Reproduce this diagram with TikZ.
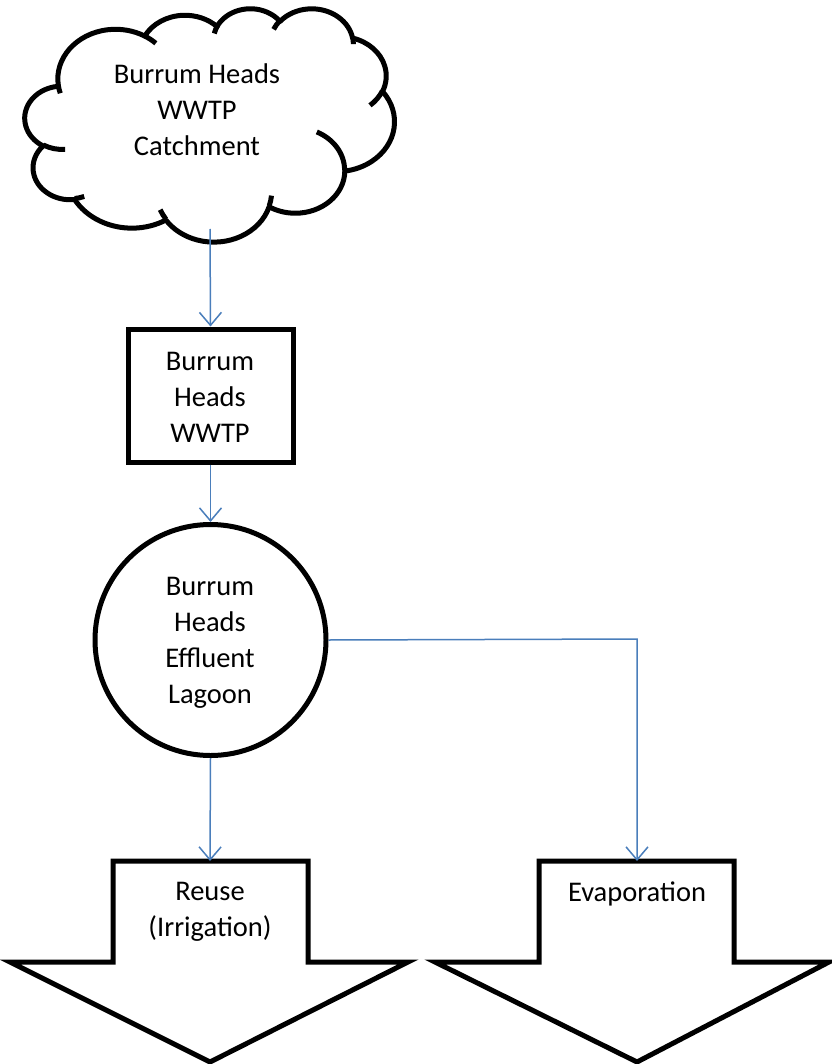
\documentclass[tikz,border=0pt]{standalone}
\usepackage{fontspec}
\setmainfont{Carlito}
\usetikzlibrary{arrows.meta}
\definecolor{conn}{HTML}{4A7EBB}
\tikzset{
  every node/.style={font=\fontsize{28.5}{36}\selectfont, align=center, inner sep=0pt},
  shapeline/.style={draw=black, line width=5pt, fill=white},
  stubline/.style={draw=black, line width=5pt},
  connline/.style={draw=conn, line width=1.5pt, -{Straight Barb[length=13pt,width=22pt,line width=1.5pt]}},
  ooarc/.style n args={4}{/utils/exec={%
      \pgfmathsetmacro\ooS{atan2((#1)*sin(#3),(#2)*cos(#3))}%
      \pgfmathsetmacro\ooE{atan2((#1)*sin(#3+#4),(#2)*cos(#3+#4))}%
      \pgfmathsetmacro\ooD{mod(\ooE-\ooS+720,360)}},
    insert path={arc[x radius=#1, y radius=#2, start angle=\ooS, delta angle=\ooD]}},
}
\begin{document}
\begin{tikzpicture}[x=1pt,y=-1pt]
\useasboundingbox[fill=white] (0,0) rectangle (831,1064);
% cloud (Office cloud geometry)
\begin{scope}[shift={(25pt,-8pt)}, x=1pt, y=1pt, xscale=0.855, yscale=-0.54]
\draw[shapeline, line join=round] (39.00,143.70)
 [ooarc={67.53}{91.90}{-190.4875}{123.7805}]
 [ooarc={53.33}{72.67}{-144.1024}{89.9452}]
 [ooarc={43.65}{59.45}{-145.8079}{99.7230}]
 [ooarc={48.57}{65.95}{-130.9861}{117.2417}]
 [ooarc={53.33}{72.73}{-78.7089}{109.0269}]
 [ooarc={67.75}{92.20}{-46.2673}{130.2690}]
 [ooarc={57.85}{78.67}{0.6250}{114.0333}]
 [ooarc={67.52}{92.15}{22.4516}{115.1726}]
 [ooarc={77.20}{105.43}{66.2426}{75.7110}]
 [ooarc={43.60}{59.18}{-274.9420}{146.7356}]
 [ooarc={43.45}{59.45}{-246.8285}{152.5189}]
 -- cycle;
\draw[stubline] (46.93,261.77) [ooarc={43.45}{59.45}{86.742}{26.4295}];
\draw[stubline] (69.28,348.99) [ooarc={43.60}{59.18}{73.6105}{11.4475}];
\draw[stubline] (164.78,390.90) [ooarc={67.52}{92.15}{137.6242}{14.0811}];
\draw[stubline] (288.27,347.51) [ooarc={67.52}{92.15}{6.4533}{15.9984}];
\draw[stubline] (341.29,229.54) [ooarc={57.85}{78.67}{-70.2924}{70.9174}];
\draw[stubline] (417.98,153.54) [ooarc={53.33}{72.73}{30.318}{27.7515}];
\draw[stubline] (383.24,54.26) [ooarc={48.57}{65.95}{-13.7443}{14.8589}];
\draw[stubline] (290.78,39.52) [ooarc={48.57}{65.95}{-149.1815}{18.1954}];
\draw[stubline] (221.41,47.20) [ooarc={43.65}{59.45}{-163.4943}{17.6864}];
\draw[stubline] (140.00,51.92) [ooarc={67.53}{91.90}{-66.7070}{12.3194}];
\draw[stubline] (41.27,157.89) [ooarc={67.53}{91.90}{157.6544}{11.8582}];
\end{scope}
\coordinate (cloudbot) at (210,229);
\node (catchtxt) at (197,110) {Burrum Heads\\WWTP\\Catchment};
% WWTP box
\node[shapeline, rectangle, minimum width=165pt, minimum height=133pt] (wwtp) at (210.5,395.5) {};
\node (wwtptxt) at (210,397) {Burrum\\Heads\\WWTP};
% lagoon
\node[shapeline, circle, minimum size=231pt] (lagoon) at (210.5,640) {};
\node (lagoontxt) at (210,643) {Burrum\\Heads\\Effluent\\Lagoon};
% reuse arrow
\draw[shapeline, line join=miter] (113,861) -- (308,861) -- (308,962) -- (408,962) -- (210,1062) -- (10,962) -- (113,962) -- cycle;
\coordinate (reusetop) at (210,861);
\node (reusetxt) at (210,912) {Reuse\\(Irrigation)};
% evaporation arrow
\draw[shapeline, line join=miter] (539,861) -- (734,861) -- (734,962) -- (829,962) -- (637,1062) -- (435,962) -- (539,962) -- cycle;
\coordinate (evaptop) at (637,861);
\node (evaptxt) at (637,894) {Evaporation};
% connectors
\coordinate (bend) at (637,639);
\draw[connline] (cloudbot) -- (wwtp.north);
\draw[connline] (wwtp.south) -- (lagoon.north);
\draw[connline] (lagoon.south) -- (reusetop);
\draw[connline] (lagoon.east) -- (bend) -- (evaptop);
\end{tikzpicture}
\end{document}
